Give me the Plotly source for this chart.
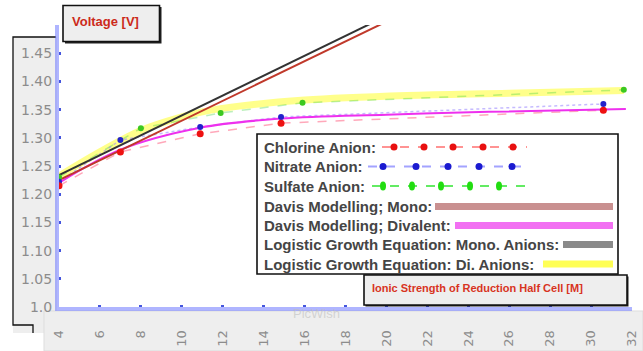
import plotly.graph_objects as go

# ---------------- data ----------------
x_chlorine = [4, 7, 10.9, 14.85, 30.6]
y_chlorine = [1.215, 1.275, 1.307, 1.326, 1.349]
x_nitrate = [4, 7, 10.9, 14.85, 30.6]
y_nitrate = [1.222, 1.296, 1.319, 1.337, 1.360]
x_sulfate = [4, 8, 11.9, 15.9, 31.6]
y_sulfate = [1.230, 1.317, 1.344, 1.362, 1.385]
x_davis_mono = [4, 20]
y_davis_mono = [1.225, 1.506]
x_logistic_mono = [4, 20]
y_logistic_mono = [1.234, 1.516]
x_davis_di = [4, 7, 10.9, 14.85, 20, 25, 31.7]
y_davis_di = [1.220, 1.279, 1.318, 1.334, 1.341, 1.346, 1.351]
x_logistic_di = [4, 6, 8, 10, 11, 13, 16, 21, 26, 31.6]
y_logistic_di = [1.232, 1.275, 1.313, 1.337, 1.346, 1.357, 1.367, 1.375, 1.379, 1.384]

x_ticks = list(range(4, 33, 2))
y_tickvals = [1.0, 1.05, 1.10, 1.15, 1.20, 1.25, 1.30, 1.35, 1.40, 1.45, 1.50]
y_ticktext = ["1.0", "1.05", "1.10", "1.15", "1.20", "1.25", "1.30", "1.35", "1.40", "1.45", ""]

legend_labels = ["Chlorine Anion:", "Nitrate Anion:", "Sulfate Anion:",
                 "Davis Modelling; Mono:", "Davis Modelling; Divalent:",
                 "Logistic Growth Equation: Mono. Anions:",
                 "Logistic Growth Equation: Di. Anions:"]

W, H = 643, 351


def px(x):
    return x / W


def py(y):
    return 1 - y / H


fig = go.Figure()

fig.add_trace(go.Scatter(x=x_logistic_di, y=y_logistic_di, mode="lines",
                         line=dict(color="rgba(255,255,90,0.7)", width=7, shape="spline")))
fig.add_trace(go.Scatter(x=x_sulfate, y=y_sulfate, mode="lines",
                         line=dict(color="rgba(60,210,60,0.35)", width=1.5, dash="dash")))
fig.add_trace(go.Scatter(x=x_chlorine, y=y_chlorine, mode="lines",
                         line=dict(color="rgba(255,110,140,0.6)", width=1.5, dash="dash")))
fig.add_trace(go.Scatter(x=x_nitrate, y=y_nitrate, mode="lines",
                         line=dict(color="rgba(150,130,255,0.55)", width=1.5, dash="dot")))
fig.add_trace(go.Scatter(x=x_davis_di, y=y_davis_di, mode="lines",
                         line=dict(color="#ee30ee", width=2, shape="spline")))
fig.add_trace(go.Scatter(x=x_logistic_mono, y=y_logistic_mono, mode="lines",
                         line=dict(color="#333333", width=2)))
fig.add_trace(go.Scatter(x=x_davis_mono, y=y_davis_mono, mode="lines",
                         line=dict(color="#c0392b", width=2)))
fig.add_trace(go.Scatter(x=x_sulfate, y=y_sulfate, mode="markers",
                         marker=dict(color="#3cc820", size=6)))
fig.add_trace(go.Scatter(x=x_nitrate, y=y_nitrate, mode="markers",
                         marker=dict(color="#2222cc", size=6)))
fig.add_trace(go.Scatter(x=x_chlorine, y=y_chlorine, mode="markers",
                         marker=dict(color="#ee1111", size=7)))

shapes = []
# gray y tick label box
shapes.append(dict(type="rect", xref="paper", yref="paper", layer="below",
                   x0=px(13), x1=px(57), y0=py(333), y1=py(37),
                   fillcolor="#eeeeee", line=dict(width=0)))
shapes.append(dict(type="path", xref="paper", yref="paper", layer="below",
                   path=f"M {px(56)} {py(37)} L {px(13)} {py(37)} L {px(13)} {py(325)} "
                        f"L {px(33)} {py(325)} L {px(33)} {py(333)}",
                   line=dict(color="#111111", width=1.3)))
# gray x tick label band
shapes.append(dict(type="rect", xref="paper", yref="paper", layer="below",
                   x0=px(44), x1=px(643), y0=py(351), y1=py(311),
                   fillcolor="#eeeeee", line=dict(color="#dddddd", width=1)))
# Voltage title box (with shadow)
shapes.append(dict(type="rect", xref="paper", yref="paper", layer="above",
                   x0=px(65), x1=px(161.5), y0=py(43.5), y1=py(7),
                   fillcolor="#222222", line=dict(width=0)))
shapes.append(dict(type="rect", xref="paper", yref="paper", layer="above",
                   x0=px(63), x1=px(159.5), y0=py(41.5), y1=py(5.5),
                   fillcolor="#eeeeee", line=dict(color="#111111", width=1.6)))
# legend box
shapes.append(dict(type="rect", xref="paper", yref="paper", layer="above",
                   x0=px(257), x1=px(618), y0=py(274), y1=py(134),
                   fillcolor="white", line=dict(color="#111111", width=1.6)))
# x title box (with shadow)
shapes.append(dict(type="rect", xref="paper", yref="paper", layer="above",
                   x0=px(365.5), x1=px(628.5), y0=py(306.5), y1=py(276.5),
                   fillcolor="#222222", line=dict(width=0)))
shapes.append(dict(type="rect", xref="paper", yref="paper", layer="above",
                   x0=px(364), x1=px(627), y0=py(305), y1=py(275),
                   fillcolor="#eeeeee", line=dict(color="#111111", width=1.6)))

# legend samples
rows = [147, 166.5, 186, 206.5, 225.5, 244.5, 264]


def hline(x0, x1, y, color, width, dash="solid"):
    shapes.append(dict(type="line", xref="paper", yref="paper", layer="above",
                       x0=px(x0), x1=px(x1), y0=py(y), y1=py(y),
                       line=dict(color=color, width=width, dash=dash)))


def dot(x, y, rx, ry, color):
    shapes.append(dict(type="circle", xref="paper", yref="paper", layer="above",
                       x0=px(x - rx), x1=px(x + rx), y0=py(y + ry), y1=py(y - ry),
                       fillcolor=color, line=dict(width=0)))


hline(382, 527, rows[0], "rgba(255,120,120,0.8)", 2, "dash")
for xx in [394, 424, 453, 483, 513]:
    dot(xx, rows[0], 3.5, 3.5, "#e81010")
hline(368, 527, rows[1], "rgba(140,140,255,0.8)", 2, "dash")
for xx in [383, 416, 448, 479, 512]:
    dot(xx, rows[1], 3.5, 3.5, "#1a1ad0")
hline(372, 527, rows[2], "rgba(60,230,60,0.8)", 2, "dash")
for xx in [383, 412, 441, 470, 499]:
    dot(xx, rows[2], 3, 4.5, "#22dd11")
hline(435, 613, rows[3], "rgba(165,70,70,0.6)", 7)
hline(455, 613, rows[4], "#f270f2", 7)
hline(563, 613, rows[5], "#8a8a8a", 7)
hline(543, 613, rows[6], "#ffff55", 7)

annotations = []
for lab, yy in zip(legend_labels, rows):
    annotations.append(dict(xref="paper", yref="paper", x=px(262), y=py(yy),
                            xanchor="left", yanchor="middle", showarrow=False,
                            text=f"<b>{lab}</b>",
                            font=dict(family="Liberation Sans", size=15, color="#454545")))
annotations.append(dict(xref="paper", yref="paper", x=px(70), y=py(21),
                        xanchor="left", yanchor="middle", showarrow=False,
                        text="<b>Voltage [V]</b>",
                        font=dict(family="Liberation Sans", size=13, color="#cc2a1a")))
annotations.append(dict(xref="paper", yref="paper", x=px(370), y=py(288),
                        xanchor="left", yanchor="middle", showarrow=False,
                        text="<b>Ionic Strength of Reduction Half Cell [M]</b>",
                        font=dict(family="Liberation Sans", size=11, color="#d8341f")))
annotations.append(dict(xref="paper", yref="paper", x=px(316), y=py(313),
                        xanchor="center", yanchor="middle", showarrow=False,
                        text="PicWish",
                        font=dict(family="Liberation Sans", size=13, color="rgba(190,190,190,0.6)")))

fig.update_layout(
    width=W, height=H,
    margin=dict(l=0, r=0, t=0, b=0),
    paper_bgcolor="white", plot_bgcolor="white",
    showlegend=False,
    shapes=shapes, annotations=annotations,
    xaxis=dict(domain=[px(59), px(632)], range=[4, 32], tickvals=x_ticks,
               tickangle=-90, ticks="inside", ticklen=2, tickwidth=3,
               tickcolor="#4455dd", showgrid=False, zeroline=False,
               showline=True, linecolor="rgba(110,120,255,0.55)", linewidth=4,
               ticklabelstandoff=14, automargin=False,
               tickfont=dict(family="DejaVu Sans", size=13, color="#8c8c8c")),
    yaxis=dict(domain=[py(307), py(25)], range=[1.0, 1.5], tickvals=y_tickvals,
               ticktext=y_ticktext, ticks="inside", ticklen=2, tickwidth=3,
               tickcolor="#4455dd", showgrid=False, zeroline=False,
               showline=True, linecolor="rgba(110,120,255,0.55)", linewidth=4,
               automargin=False,
               tickfont=dict(family="DejaVu Sans", size=14, color="#8c8c8c")),
)

fig.write_html("out.html")
